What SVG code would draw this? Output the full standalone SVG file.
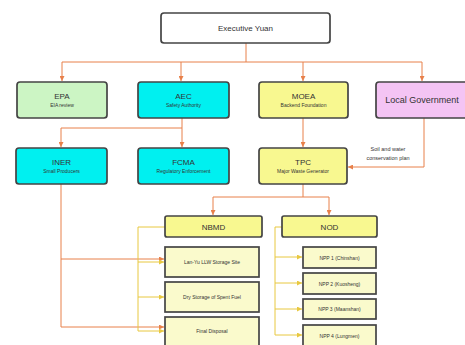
<svg xmlns="http://www.w3.org/2000/svg" width="465" height="345" viewBox="0 0 465 345">
<defs>
<marker id="ao" viewBox="0 0 6 6" refX="6" refY="3" markerWidth="5" markerHeight="5" orient="auto"><path d="M0,0 L6,3 L0,6 z" fill="#e8804a"/></marker>
<marker id="ay" viewBox="0 0 6 6" refX="6" refY="3" markerWidth="5" markerHeight="5" orient="auto"><path d="M0,0 L6,3 L0,6 z" fill="#e8c840"/></marker>
</defs>
<style>
rect{stroke:#444;stroke-width:1.7}
.t{font-family:"Liberation Sans",Arial,sans-serif;font-size:8px;fill:#333;text-anchor:middle}
.s{font-family:"Liberation Sans",Arial,sans-serif;font-size:5px;fill:#333;text-anchor:middle}
.c{font-family:"Liberation Sans",Arial,sans-serif;font-size:5.5px;fill:#333;text-anchor:middle}
.o{fill:none;stroke:#e8804a;stroke-width:1}
.y{fill:none;stroke:#e8c840;stroke-width:1}
.green{fill:#ccf5c4}.cyan{fill:#00f0f0}.yel{fill:#f8f890}.pink{fill:#f4c4f4}.lt{fill:#fafacc}
</style>
<rect width="465" height="345" fill="#fff" style="stroke:none"/>
<g id="connectors">
<path class="o" d="M246,43 V62 M62,62 H422"/>
<path class="o" d="M62,62 V81" marker-end="url(#ao)"/>
<path class="o" d="M181,62 V81" marker-end="url(#ao)"/>
<path class="o" d="M303,62 V81" marker-end="url(#ao)"/>
<path class="o" d="M422,62 V81" marker-end="url(#ao)"/>
<path class="o" d="M182,118 V128 M61,128 H182"/>
<path class="o" d="M61,128 V147" marker-end="url(#ao)"/>
<path class="o" d="M182,128 V147" marker-end="url(#ao)"/>
<path class="o" d="M303,118 V147" marker-end="url(#ao)"/>
<path class="o" d="M424,118 V167 H348" marker-end="url(#ao)"/>
<path class="o" d="M303,184 V197 M213,197 H329"/>
<path class="o" d="M213,197 V215" marker-end="url(#ao)"/>
<path class="o" d="M329,197 V215" marker-end="url(#ao)"/>
<path class="o" d="M61,184 V327"/>
<path class="o" d="M61,259 H164" marker-end="url(#ao)"/>
<path class="o" d="M61,327 H164" marker-end="url(#ao)"/>
<path class="y" d="M165,227 H138 V331"/>
<path class="y" d="M138,262 H164" marker-end="url(#ay)"/>
<path class="y" d="M138,297 H164" marker-end="url(#ay)"/>
<path class="y" d="M138,331 H164" marker-end="url(#ay)"/>
<path class="y" d="M282,227 H275 V335"/>
<path class="y" d="M275,257 H302" marker-end="url(#ay)"/>
<path class="y" d="M275,283 H302" marker-end="url(#ay)"/>
<path class="y" d="M275,309 H302" marker-end="url(#ay)"/>
<path class="y" d="M275,335 H302" marker-end="url(#ay)"/>
<text class="c" x="388" y="151">Soil and water</text>
<text class="c" x="388" y="160">conservation plan</text>
</g>
<g id="executive-yuan"><rect x="161" y="13" width="169" height="30" rx="3" fill="#fff"/><text class="t" x="245.5" y="31">Executive Yuan</text></g>
<g id="epa"><rect class="green" x="17" y="82" width="90" height="36" rx="3"/><text class="t" x="62" y="99">EPA</text><text class="s" x="62" y="107">EIA review</text></g>
<g id="aec"><rect class="cyan" x="138" y="82" width="91" height="36" rx="3"/><text class="t" x="183.5" y="99">AEC</text><text class="s" x="183.5" y="107">Safety Authority</text></g>
<g id="moea"><rect class="yel" x="259" y="82" width="89" height="36" rx="3"/><text class="t" x="303.5" y="99">MOEA</text><text class="s" x="303.5" y="107">Backend Foundation</text></g>
<g id="local-government"><rect class="pink" x="376" y="82" width="94" height="36" rx="3"/><text class="t" x="422" y="103" style="font-size:9px">Local Government</text></g>
<g id="iner"><rect class="cyan" x="16" y="148" width="91" height="36" rx="3"/><text class="t" x="61.5" y="165">INER</text><text class="s" x="61.5" y="173">Small Producers</text></g>
<g id="fcma"><rect class="cyan" x="138" y="148" width="91" height="36" rx="3"/><text class="t" x="183.5" y="165">FCMA</text><text class="s" x="183.5" y="173">Regulatory Enforcement</text></g>
<g id="tpc"><rect class="yel" x="259" y="148" width="88" height="36" rx="3"/><text class="t" x="303" y="165">TPC</text><text class="s" x="303" y="173">Major Waste Generator</text></g>
<g id="nbmd"><rect class="yel" x="165" y="216" width="97" height="21" rx="2"/><text class="t" x="213.5" y="229.5">NBMD</text></g>
<g id="nod"><rect class="yel" x="282" y="216" width="95" height="21" rx="2"/><text class="t" x="329.5" y="229.5">NOD</text></g>
<g id="lan-yu"><rect class="lt" x="165" y="247" width="94" height="30"/><text class="s" x="212" y="264">Lan-Yu LLW Storage Site</text></g>
<g id="dry-storage"><rect class="lt" x="165" y="282" width="94" height="30"/><text class="s" x="212" y="299">Dry Storage of Spent Fuel</text></g>
<g id="final-disposal"><rect class="lt" x="165" y="317" width="94" height="32"/><text class="s" x="212" y="333">Final Disposal</text></g>
<g id="npp1"><rect class="lt" x="303" y="247" width="73" height="21"/><text class="s" x="339.5" y="259.5">NPP 1 (Chinshan)</text></g>
<g id="npp2"><rect class="lt" x="303" y="273" width="73" height="21"/><text class="s" x="339.5" y="285.5">NPP 2 (Kuosheng)</text></g>
<g id="npp3"><rect class="lt" x="303" y="299" width="73" height="20"/><text class="s" x="339.5" y="311">NPP 3 (Maanshan)</text></g>
<g id="npp4"><rect class="lt" x="303" y="325" width="73" height="21"/><text class="s" x="339.5" y="337.5">NPP 4 (Lungmen)</text></g>
</svg>
